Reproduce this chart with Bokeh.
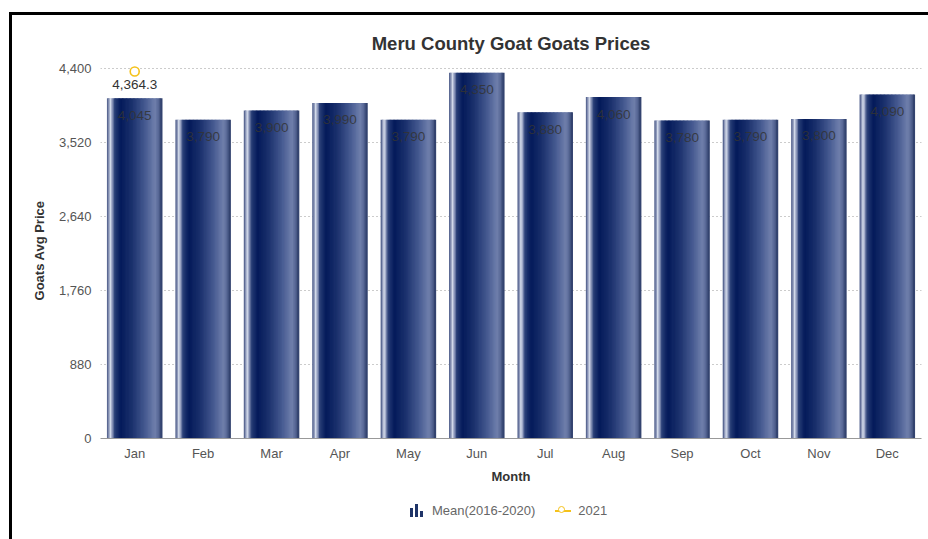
from bokeh.plotting import figure
from bokeh.layouts import column
from bokeh.core.properties import value
from bokeh.models import (ColumnDataSource, LabelSet, Div,
                          NumeralTickFormatter, FixedTicker, Range1d)
from bokeh.transform import dodge
from bokeh.embed import file_html
from bokeh.resources import INLINE

months = ["Jan", "Feb", "Mar", "Apr", "May", "Jun", "Jul", "Aug", "Sep", "Oct", "Nov", "Dec"]
mean_values = [4045, 3790, 3900, 3990, 3790, 4350, 3880, 4060, 3780, 3790, 3800, 4090]
mean_labels = ["4,045", "3,790", "3,900", "3,990", "3,790", "4,350", "3,880", "4,060", "3,780", "3,790", "3,800", "4,090"]
y2021_months = ["Jan"]
y2021_values = [4364.3]
y2021_labels = ["4,364.3"]
y_ticks = [0, 880, 1760, 2640, 3520, 4400]
series_names = ["Mean(2016-2020)", "2021"]

FONT = "Liberation Sans"
NAVY = "#1f3468"
GOLD = "#f5c21b"

# cylinder-like shading profile (style only)
stops = [(0.00, (70, 85, 130)), (0.03, (120, 132, 170)), (0.06, (215, 222, 236)),
         (0.09, (160, 170, 200)), (0.14, (40, 62, 118)), (0.25, (4, 26, 90)),
         (0.45, (26, 48, 108)), (0.70, (70, 90, 145)), (0.88, (112, 128, 172)),
         (0.95, (84, 100, 146)), (1.00, (40, 56, 100))]

def shade(t):
    for (t0, c0), (t1, c1) in zip(stops[:-1], stops[1:]):
        if t0 <= t <= t1:
            f = (t - t0) / (t1 - t0) if t1 > t0 else 0
            c = [round(a + (b - a) * f) for a, b in zip(c0, c1)]
            return "#%02x%02x%02x" % tuple(c)
    return "#%02x%02x%02x" % stops[-1][1]

# a little headroom above the 4,400 gridline so the 2021 marker is not clipped
p = figure(x_range=months, y_range=Range1d(0, 4471), width=916, height=475,
           output_backend="svg", toolbar_location=None,
           min_border_left=88, min_border_right=7, min_border_top=47, min_border_bottom=52)

src = ColumnDataSource(dict(month=months, value=mean_values, label=mean_labels))

bar_w = 0.8
n = 40
sw = bar_w / n
for i in range(n):
    t = (i + 0.5) / n
    off = -bar_w / 2 + (i + 0.5) * sw
    p.vbar(x=dodge("month", off, range=p.x_range), top="value", width=sw * 1.6,
           source=src, fill_color=shade(t), line_color=None)

labels = LabelSet(x="month", y="value", text="label", source=src, y_offset=-17,
                  text_align="center", text_baseline="middle", text_font_size=value("13.5px"),
                  text_font=value(FONT), text_color="#333333", text_alpha=0.85)
p.add_layout(labels)

src21 = ColumnDataSource(dict(month=y2021_months, value=y2021_values, label=y2021_labels))
p.scatter(x="month", y="value", source=src21, size=9, fill_color="white",
          line_color=GOLD, line_width=1.6)
lab21 = LabelSet(x="month", y="value", text="label", source=src21, y_offset=-13,
                 text_align="center", text_baseline="middle", text_font_size=value("13.5px"),
                 text_font=value(FONT), text_color="#333333")
p.add_layout(lab21)

p.title.text = "Meru County Goat Goats Prices"
p.title.align = "center"
p.title.text_font = FONT
p.title.text_font_size = "18.5px"
p.title.text_color = "#333333"
p.title.standoff = 18

p.yaxis.ticker = FixedTicker(ticks=y_ticks)
p.yaxis.formatter = NumeralTickFormatter(format="0,0")
p.yaxis.axis_line_color = None
p.yaxis.major_tick_line_color = None
p.yaxis.minor_tick_line_color = None
p.yaxis.axis_label = "Goats Avg Price"
p.xaxis.axis_label = "Month"
for ax in (p.xaxis, p.yaxis):
    ax.axis_label_text_font = FONT
    ax.axis_label_text_font_style = "bold"
    ax.axis_label_text_font_size = "13px"
    ax.axis_label_text_color = "#333333"
    ax.major_label_text_font = FONT
    ax.major_label_text_font_size = "13px"
    ax.major_label_text_color = "#555555"
p.xaxis.axis_line_color = "#999999"
p.xaxis.major_tick_line_color = None
p.xaxis.major_tick_out = 0
p.xaxis.major_label_standoff = 7
p.xaxis.axis_label_standoff = 5
p.yaxis.major_tick_out = 6
p.yaxis.major_label_standoff = 3
p.yaxis.axis_label_standoff = 9

p.xgrid.grid_line_color = None
p.ygrid.grid_line_color = "#999999"
p.ygrid.grid_line_dash = "1 3"
p.outline_line_color = None
p.x_range.range_padding = 0

bar_icon = (
    '<span style="display:inline-block;width:14px;height:13px;position:relative;vertical-align:-2px;margin-right:8px">'
    f'<span style="position:absolute;left:0;bottom:0;width:3px;height:9px;background:{NAVY}"></span>'
    f'<span style="position:absolute;left:5px;bottom:0;width:3px;height:13px;background:{NAVY}"></span>'
    f'<span style="position:absolute;left:10px;bottom:0;width:3px;height:6px;background:{NAVY}"></span>'
    '</span>'
)
circle_icon = (
    '<span style="display:inline-block;width:16px;height:10px;position:relative;vertical-align:-1px;margin-right:7px">'
    f'<span style="position:absolute;left:0;top:4px;width:16px;height:2px;background:{GOLD}"></span>'
    f'<span style="position:absolute;left:3px;top:0;width:7px;height:7px;border:1.6px solid {GOLD};border-radius:50%;background:white"></span>'
    '</span>'
)
legend_html = (
    f'<div style="font-family:\'{FONT}\';font-size:13px;color:#666666;padding-left:393px;padding-top:7px;white-space:nowrap">'
    f'{bar_icon}{series_names[0]}<span style="display:inline-block;width:20px"></span>'
    f'{circle_icon}{series_names[1]}</div>'
)
legend_div = Div(text=legend_html, width=916, height=49)

layout = column(p, legend_div, margin=(12, 0, 0, 9),
                styles={"border-top": "3px solid black", "border-left": "3px solid black"})

open("out.html", "w").write(file_html(layout, INLINE))
